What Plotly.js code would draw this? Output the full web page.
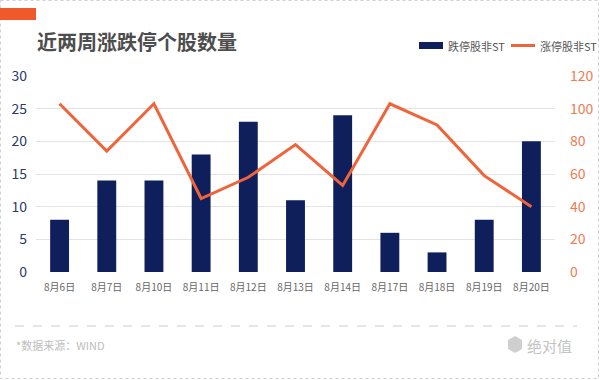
<!DOCTYPE html>
<html>
<head>
<meta charset="utf-8">
<script src="https://cdn.plot.ly/plotly-3.0.1.min.js"></script>
<style>
html,body{margin:0;padding:0;background:#fff;}
#chart{width:600px;height:380px;}
</style>
</head>
<body>
<div id="chart"></div>
<script>
const categories = ["8月6日","8月7日","8月10日","8月11日","8月12日","8月13日","8月14日","8月17日","8月18日","8月19日","8月20日"];
const limitDown = [8,14,14,18,23,11,24,6,3,8,20];
const limitUp = [103,74,103,45,58,78,53,103,90,59,40];
const leftTicks = [0,5,10,15,20,25,30];
const rightTicks = [0,20,40,60,80,100,120];
const seriesNames = ["跌停股非ST","涨停股非ST"];

const W = 600, H = 380;
const M = {l:36, r:45, t:76, b:108};
const pw = W - M.l - M.r, ph = H - M.t - M.b;
const px = x => (x - M.l) / pw;
const py = y => (H - M.b - y) / ph;

const NAVY = "#0f1f5c";
const ORANGE = "#f0643c";
const FONT = "Noto Sans CJK SC, Noto Sans, sans-serif";

const traces = [
  {type:"bar", x:categories, y:limitDown, name:seriesNames[0], marker:{color:NAVY}, yaxis:"y", showlegend:false, hoverinfo:"x+y"},
  {type:"scatter", mode:"lines", x:categories, y:limitUp, name:seriesNames[1], line:{color:ORANGE, width:3}, yaxis:"y2", showlegend:false, hoverinfo:"x+y"}
];

const shapes = [
  {type:"rect", xref:"paper", yref:"paper", x0:px(0.5), x1:px(598.5), y0:py(0.5), y1:py(378.5), line:{color:"#d0d0d0", width:1, dash:"dot"}, fillcolor:"rgba(0,0,0,0)", layer:"below"},
  {type:"rect", xref:"paper", yref:"paper", x0:px(0), x1:px(36), y0:py(8), y1:py(20), line:{width:0}, fillcolor:"#f05a2a"},
  {type:"rect", xref:"paper", yref:"paper", x0:px(419), x1:px(443), y0:py(42), y1:py(49), line:{width:0}, fillcolor:NAVY},
  {type:"line", xref:"paper", yref:"paper", x0:px(511), x1:px(535), y0:py(45.5), y1:py(45.5), line:{color:ORANGE, width:3}},
  {type:"line", xref:"paper", yref:"paper", x0:px(15), x1:px(577), y0:py(326), y1:py(326), line:{color:"#cccccc", width:1, dash:"dash"}},
  {type:"path", xref:"paper", yref:"paper",
   path:"M "+px(508)+","+py(340)+" L "+px(515)+","+py(336)+" L "+px(522)+","+py(340)+" L "+px(522)+","+py(349)+" L "+px(515)+","+py(353)+" L "+px(508)+","+py(349)+" Z",
   fillcolor:"#cfcfcf", line:{width:0}}
];

const annotations = [
  {xref:"paper", yref:"paper", x:px(446), y:py(45.5), xanchor:"left", yanchor:"middle", showarrow:false, text:seriesNames[0], font:{family:FONT, size:11, color:"#555"}},
  {xref:"paper", yref:"paper", x:px(538), y:py(45.5), xanchor:"left", yanchor:"middle", showarrow:false, text:seriesNames[1], font:{family:FONT, size:11, color:"#555"}},
  {xref:"paper", yref:"paper", x:px(14), y:py(345), xanchor:"left", yanchor:"middle", showarrow:false, text:"*数据来源：WIND", font:{family:FONT, size:11, color:"#bdbdbd"}},
  {xref:"paper", yref:"paper", x:px(525), y:py(345), xanchor:"left", yanchor:"middle", showarrow:false, text:"绝对值", font:{family:FONT, size:15, color:"#c4c4c4"}}
];

const layout = {
  width:W, height:H,
  margin:{l:M.l, r:M.r, t:M.t, b:M.b, pad:0},
  paper_bgcolor:"#fff", plot_bgcolor:"#fff",
  font:{family:FONT},
  title:{text:"<b>近两周涨跌停个股数量</b>", xref:"container", yref:"container", x:37/W, xanchor:"left", y:1-43/H, yanchor:"middle", font:{family:FONT, size:20, color:"#4d4d4d"}},
  bargap:0.6,
  showlegend:false,
  xaxis:{type:"category", range:[-0.5,10.5], showgrid:false, zeroline:false, showline:false, ticks:"", tickfont:{family:FONT, size:10, color:"#666"}, ticklabelstandoff:8, fixedrange:true},
  yaxis:{range:[0,30], tickvals:leftTicks, showgrid:true, gridcolor:"#e3e3e3", gridwidth:1, zeroline:false, showline:false, ticks:"", tickfont:{family:FONT, size:14, color:"#2b3a6b"}, ticklabelstandoff:8, fixedrange:true},
  yaxis2:{range:[0,120], tickvals:rightTicks, overlaying:"y", side:"right", showgrid:false, zeroline:false, showline:false, ticks:"", tickfont:{family:FONT, size:14, color:"#f07a52"}, ticklabelstandoff:14, fixedrange:true},
  shapes:shapes,
  annotations:annotations
};

Plotly.newPlot("chart", traces, layout, {displayModeBar:false, staticPlot:true});
</script>
</body>
</html>
